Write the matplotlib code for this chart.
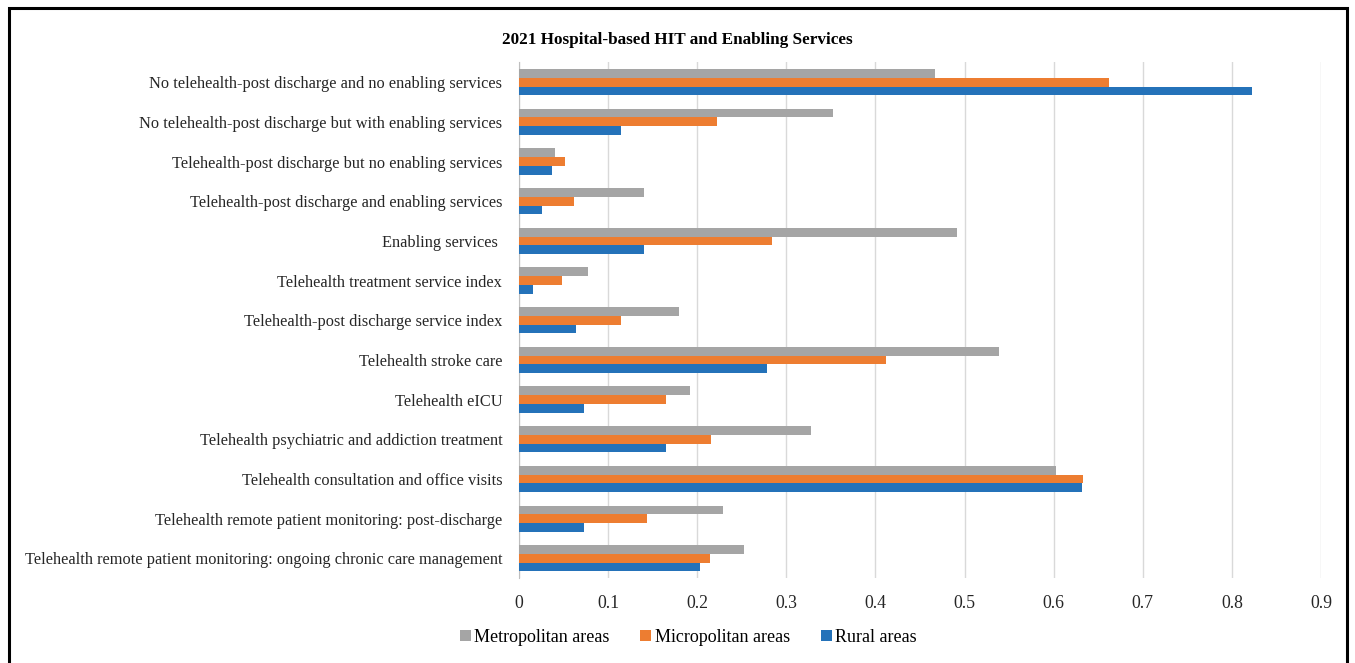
import numpy as np
import matplotlib.pyplot as plt
from matplotlib.patches import Rectangle

categories = [
    "No telehealth-post discharge and no enabling services",
    "No telehealth-post discharge but with enabling services",
    "Telehealth-post discharge but no enabling services",
    "Telehealth-post discharge and enabling services",
    "Enabling services ",
    "Telehealth treatment service index",
    "Telehealth-post discharge service index",
    "Telehealth stroke care",
    "Telehealth eICU",
    "Telehealth psychiatric and addiction treatment",
    "Telehealth consultation and office visits",
    "Telehealth remote patient monitoring: post-discharge",
    "Telehealth remote patient monitoring: ongoing chronic care management",
]
metro = [0.467, 0.352, 0.040, 0.140, 0.492, 0.078, 0.180, 0.539, 0.192, 0.328, 0.602, 0.229, 0.253]
micro = [0.662, 0.222, 0.052, 0.062, 0.284, 0.048, 0.114, 0.412, 0.165, 0.215, 0.633, 0.144, 0.214]
rural = [0.822, 0.114, 0.037, 0.026, 0.140, 0.016, 0.064, 0.278, 0.073, 0.165, 0.632, 0.073, 0.203]
series_names = ["Metropolitan areas", "Micropolitan areas", "Rural areas"]
xticks = [0, 0.1, 0.2, 0.3, 0.4, 0.5, 0.6, 0.7, 0.8, 0.9]
xtick_labels = ["0", "0.1", "0.2", "0.3", "0.4", "0.5", "0.6", "0.7", "0.8", "0.9"]

C_GRAY = '#a5a5a5'
C_ORANGE = '#ed7d31'
C_BLUE = '#2472b9'

plt.rcParams['font.family'] = ['Liberation Serif', 'DejaVu Serif']

fig = plt.figure(figsize=(13.55, 6.63), dpi=100)
ax = fig.add_axes([0.383, 0.128, 0.592, 0.778])

y = np.arange(len(categories))
h = 0.22
ax.barh(y - h, metro, height=h, color=C_GRAY, label=series_names[0], zorder=3)
ax.barh(y, micro, height=h, color=C_ORANGE, label=series_names[1], zorder=3)
ax.barh(y + h, rural, height=h, color=C_BLUE, label=series_names[2], zorder=3)

ax.set_ylim(len(categories) - 0.5, -0.5)
ax.set_xlim(0, 0.9)
ax.set_yticks(y)
ax.set_yticklabels(categories, fontsize=11.8, color='#262626')
ax.set_xticks(xticks)
ax.set_xticklabels(xtick_labels, fontsize=12.8, color='#262626')
ax.tick_params(axis='both', length=0)
ax.tick_params(axis='y', pad=12)
ax.tick_params(axis='x', pad=12)

ax.grid(axis='x', color='#d9d9d9', lw=1.0, zorder=0)
for s in ['top', 'right', 'bottom']:
    ax.spines[s].set_visible(False)
ax.spines['left'].set_color('#bfbfbf')

fig.text(0.5, 0.94, "2021 Hospital-based HIT and Enabling Services",
         ha='center', va='center', fontsize=12.3, fontweight='bold')

handles, labels = ax.get_legend_handles_labels()
fig.legend(handles, labels, loc='center', bbox_to_anchor=(0.508, 0.039), ncol=3,
           frameon=False, fontsize=13, handlelength=0.6, handleheight=0.6,
           handletextpad=0.2, columnspacing=1.7)

# black frame round the figure (bottom edge runs off the image)
fig.patches.append(Rectangle((0.0065, -0.05), 0.9875, 1.038, transform=fig.transFigure,
                             fill=False, edgecolor='black', lw=2.2))

fig.savefig('out.png', dpi=100)
